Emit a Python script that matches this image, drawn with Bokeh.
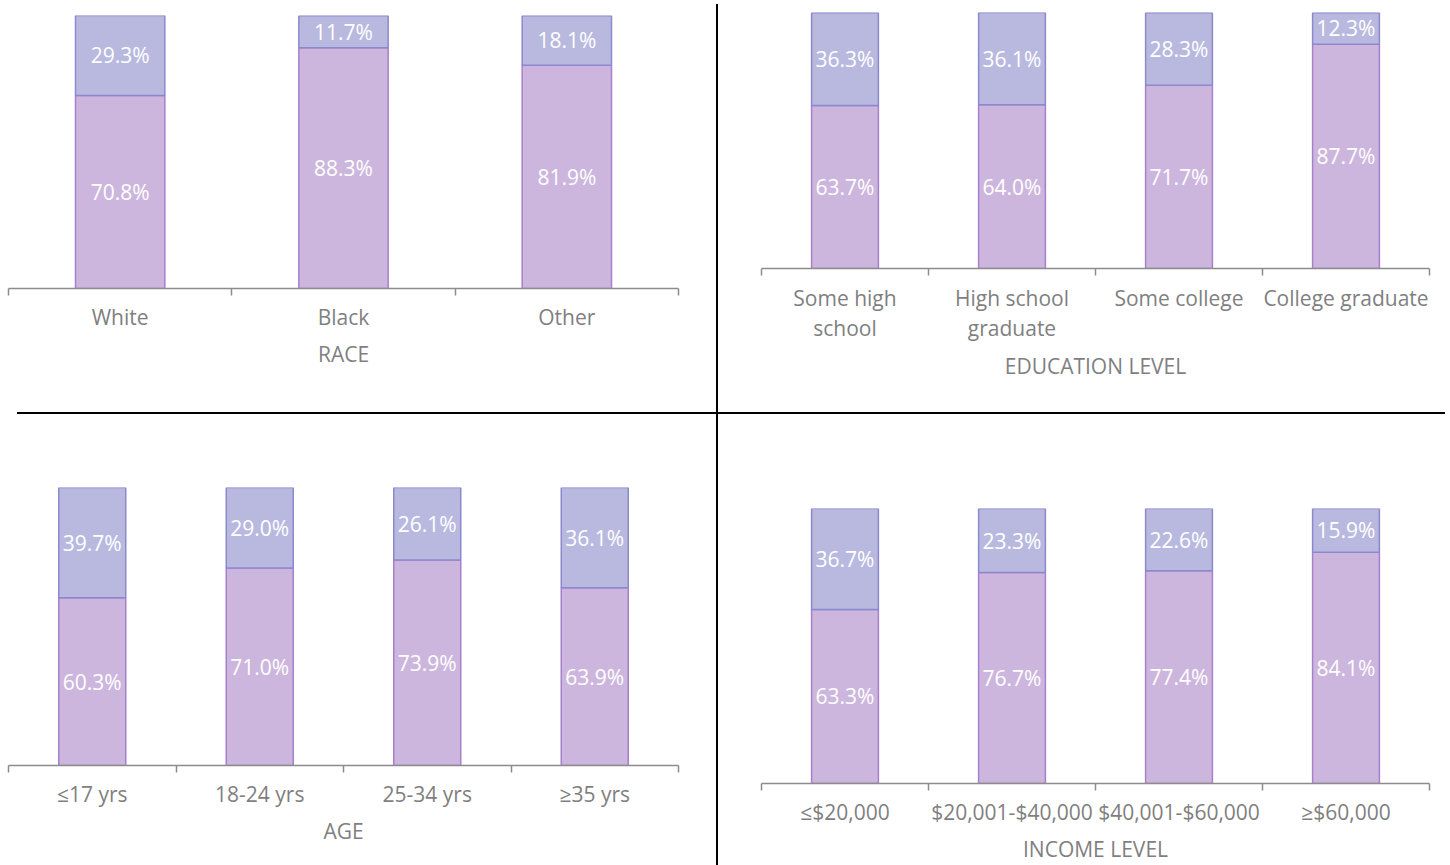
from bokeh.plotting import figure
from bokeh.models import Range1d, LinearAxis, FixedTicker, ColumnDataSource, Div, Spacer
from bokeh.layouts import row, column
from bokeh.core.properties import value
from bokeh.embed import file_html
from bokeh.resources import INLINE

# ---------------- data ----------------
race_cats = ["White", "Black", "Other"]
race_bottom = [70.8, 88.3, 81.9]
race_top = [29.3, 11.7, 18.1]

edu_cats = ["Some high\nschool", "High school\ngraduate", "Some college", "College graduate"]
edu_bottom = [63.7, 64.0, 71.7, 87.7]
edu_top = [36.3, 36.1, 28.3, 12.3]

age_cats = ["\u226417 yrs", "18-24 yrs", "25-34 yrs", "\u226535 yrs"]
age_bottom = [60.3, 71.0, 73.9, 63.9]
age_top = [39.7, 29.0, 26.1, 36.1]

inc_cats = ["\u2264$20,000", "$20,001-$40,000", "$40,001-$60,000", "\u2265$60,000"]
inc_bottom = [63.3, 76.7, 77.4, 84.1]
inc_top = [36.7, 23.3, 22.6, 15.9]

FONT = "Open Sans"
TXT = "#7f7f7f"
AX = "#8c8c8c"
TOP_FILL = "#b9b9df"
TOP_LINE = "#8c88cf"
BOT_FILL = "#cdb6dd"
BOT_LINE = "#a77fcd"


def panel(cats, bottom, top, title, width, height, bl, br, bt, bb,
          label_standoff, title_standoff):
    n = len(cats)
    totals = [b + t for b, t in zip(bottom, top)]
    ymax = max(totals)
    p = figure(width=width, height=height, x_range=Range1d(0, n),
               y_range=Range1d(0, ymax), x_axis_type=None, y_axis_type=None,
               toolbar_location=None, output_backend="svg",
               min_border_left=bl, min_border_right=br,
               min_border_top=bt, min_border_bottom=bb)
    p.outline_line_color = None
    p.grid.visible = False
    p.background_fill_color = "white"
    p.border_fill_color = "white"
    xs = [i + 0.5 for i in range(n)]
    src = ColumnDataSource(dict(
        x=xs, b=bottom, tot=totals,
        bl=[f"{v:.1f}%" for v in bottom],
        tl=[f"{v:.1f}%" for v in top],
        bmid=[v / 2 for v in bottom],
        tmid=[b + t / 2 for b, t in zip(bottom, top)],
    ))
    p.vbar(x="x", width=0.4, bottom=0, top="b", source=src,
           fill_color=BOT_FILL, line_color=BOT_LINE, line_width=1.5)
    p.vbar(x="x", width=0.4, bottom="b", top="tot", source=src,
           fill_color=TOP_FILL, line_color=TOP_LINE, line_width=1.5)
    for yk, tk in (("bmid", "bl"), ("tmid", "tl")):
        p.text(x="x", y=yk, text=tk, source=src, text_align="center",
               text_baseline="middle", text_color="white",
               text_font=value(FONT), text_font_size="21px")
    axis = LinearAxis(
        ticker=FixedTicker(ticks=xs, minor_ticks=list(range(n + 1))),
        major_label_overrides={x: c for x, c in zip(xs, cats)},
        axis_label=title)
    axis.axis_line_color = AX
    axis.axis_line_width = 1.5
    axis.major_tick_out = 0
    axis.major_tick_in = 0
    axis.minor_tick_out = 7
    axis.minor_tick_in = 0
    axis.minor_tick_line_color = AX
    axis.minor_tick_line_width = 1.5
    axis.major_label_text_font = FONT
    axis.major_label_text_font_size = "21px"
    axis.major_label_text_color = TXT
    axis.major_label_text_line_height = 1.1
    axis.major_label_standoff = label_standoff
    axis.axis_label_text_font = FONT
    axis.axis_label_text_font_size = "21px"
    axis.axis_label_text_font_style = "normal"
    axis.axis_label_text_color = TXT
    axis.axis_label_standoff = title_standoff
    p.add_layout(axis, "below")
    return p


tl = panel(race_cats, race_bottom, race_top, "RACE", 716, 412, 8, 38, 15, 124, 7, 6)
tr = panel(edu_cats, edu_bottom, edu_top, "EDUCATION LEVEL", 732, 412, 43, 21, 12, 144, 8, 7)
bl_ = panel(age_cats, age_bottom, age_top, "AGE", 716, 451, 8, 38, 73, 100, 7, 6)
br_ = panel(inc_cats, inc_bottom, inc_top, "INCOME LEVEL", 732, 451, 43, 21, 94, 81, 7, 6)

LINE = {"background-color": "black"}
hl_left = row(Spacer(width=17, height=2, margin=0),
              Div(text="", width=699, height=2, styles=LINE, margin=0))
hl_right = row(Div(text="", width=727, height=2, styles=LINE, margin=0),
               Spacer(width=5, height=2, margin=0))
vline = column(Spacer(width=2, height=4, margin=0),
               Div(text="", width=2, height=861, styles=LINE, margin=0))

left = column(tl, hl_left, bl_)
right = column(tr, hl_right, br_)
layout = row(left, vline, right)

open("out.html", "w").write(file_html(layout, INLINE))
